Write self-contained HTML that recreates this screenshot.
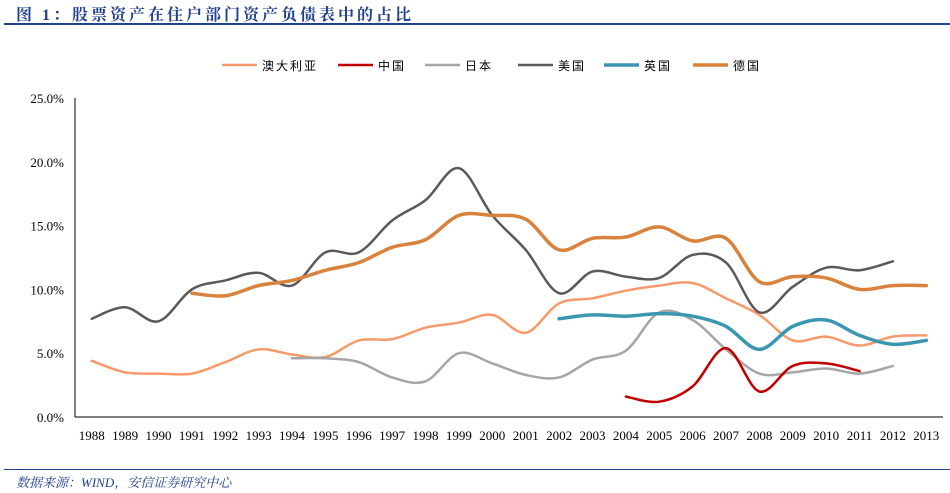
<!DOCTYPE html>
<html><head><meta charset="utf-8">
<style>
html,body{margin:0;padding:0;background:#fff;}
body{width:950px;height:493px;overflow:hidden;position:relative;font-family:"Liberation Serif","Noto Serif CJK SC",serif;}
#title{position:absolute;left:16px;top:2px;font-size:16px;font-weight:bold;color:#1f3f8f;letter-spacing:3px;font-family:"Liberation Serif","Noto Serif CJK SC",serif;}
#tline{position:absolute;left:4px;top:23px;width:946px;height:2px;background:#1f3f8f;}
#fline{position:absolute;left:4px;top:469px;width:946px;height:1px;background:#1f3f8f;}
#foot{position:absolute;left:16px;top:472px;font-size:13px;font-style:italic;color:#1f3f8f;font-family:"Liberation Serif","Noto Serif CJK SC",serif;}
svg{position:absolute;left:0;top:0;}
</style></head><body>
<div id="title">图 1：股票资产在住户部门资产负债表中的占比</div>
<div id="tline"></div>
<svg id="chart" width="950" height="493"></svg>
<div id="fline"></div>
<div id="foot">数据来源：WIND，安信证券研究中心</div>
<script>
const years = [1988,1989,1990,1991,1992,1993,1994,1995,1996,1997,1998,1999,2000,2001,2002,2003,2004,2005,2006,2007,2008,2009,2010,2011,2012,2013];
const yTicks = [0,5,10,15,20,25];
const seriesNames = ["澳大利亚","中国","日本","美国","英国","德国"];
const seriesColors = ["#f79a6a","#c00000","#a6a6a6","#595959","#3b97b0","#d9823b"];
const seriesWidths = [2.5,2.5,2.5,2.5,3.5,3.5];
const australia = [4.4,3.5,3.4,3.4,4.3,5.3,4.9,4.7,6.0,6.1,7.0,7.4,8.0,6.6,8.9,9.3,9.9,10.3,10.5,9.3,8.0,6.0,6.3,5.6,6.3,6.4];
const china = [null,null,null,null,null,null,null,null,null,null,null,null,null,null,null,null,1.6,1.2,2.4,5.4,2.0,4.0,4.2,3.6,null,null];
const japan = [null,null,null,null,null,null,4.6,4.6,4.3,3.1,2.8,5.0,4.2,3.3,3.1,4.5,5.2,8.2,7.6,5.3,3.4,3.5,3.8,3.4,4.0,null];
const usa = [7.7,8.6,7.5,10.0,10.7,11.3,10.3,12.9,12.9,15.4,17.0,19.5,15.8,13.1,9.7,11.4,11.0,10.9,12.7,12.1,8.2,10.2,11.7,11.5,12.2,null];
const uk = [null,null,null,null,null,null,null,null,null,null,null,null,null,null,7.7,8.0,7.9,8.1,7.9,7.1,5.3,7.1,7.6,6.4,5.7,6.0];
const germany = [null,null,null,9.7,9.5,10.3,10.7,11.5,12.1,13.3,13.9,15.8,15.8,15.5,13.1,14.0,14.1,14.9,13.8,14.0,10.6,11.0,10.9,10.0,10.3,10.3];
const seriesData = [australia,china,japan,usa,uk,germany];

const svg = document.getElementById('chart');
const NS = 'http://www.w3.org/2000/svg';
const X0 = 75, X1 = 943, Y0 = 417, Y1 = 98, YMAX = 25;
function xScale(i){ return X0 + (X1 - X0) * (i + 0.5) / years.length; }
function yScale(v){ return Y0 - (Y0 - Y1) * v / YMAX; }
function mk(tag, attrs){ const e = document.createElementNS(NS, tag); for (const k in attrs) e.setAttribute(k, attrs[k]); svg.appendChild(e); return e; }

let ax = mk('line',{x1:X0,y1:Y1,x2:X0,y2:Y0,stroke:'#000','stroke-width':1});


let bx = mk('line',{x1:X0,y1:Y0,x2:X1,y2:Y0,stroke:'#000','stroke-width':1});



yTicks.forEach(t => {
  const tx = mk('text',{x:64,y:yScale(t)+5,'text-anchor':'end','font-size':'13','font-family':'Liberation Serif, serif',fill:'#000'});
  tx.textContent = t.toFixed(1) + '%';
  
  
});
years.forEach((y,i) => {
  const tx = mk('text',{x:xScale(i),y:440,'text-anchor':'middle','font-size':'13','font-family':'Liberation Serif, serif',fill:'#000'});
  tx.textContent = y;
  
  
});

function smoothPath(pts){
  if (pts.length < 2) return '';
  let d = 'M' + pts[0][0] + ',' + pts[0][1];
  for (let i = 0; i < pts.length - 1; i++){
    const p0 = pts[i-1] || pts[i], p1 = pts[i], p2 = pts[i+1], p3 = pts[i+2] || p2;
    const t = 6;
    const c1x = p1[0] + (p2[0]-p0[0])/t, c1y = p1[1] + (p2[1]-p0[1])/t;
    const c2x = p2[0] - (p3[0]-p1[0])/t, c2y = p2[1] - (p3[1]-p1[1])/t;
    d += ' C' + c1x + ',' + c1y + ' ' + c2x + ',' + c2y + ' ' + p2[0] + ',' + p2[1];
  }
  return d;
}
const drawOrder = [0,2,3,5,4,1];
drawOrder.forEach(s => {
  const pts = [];
  seriesData[s].forEach((v,i) => { if (v !== null) pts.push([xScale(i), yScale(v)]); });
  const p = mk('path',{d:smoothPath(pts),fill:'none',stroke:seriesColors[s],'stroke-width':seriesWidths[s],'stroke-linecap':'round'});
  
  
});

const legendX = [222,338,425,518,604,693];
seriesNames.forEach((n,s) => {
  const lx = legendX[s];
  const l = mk('line',{x1:lx,y1:65,x2:lx+35,y2:65,stroke:seriesColors[s],'stroke-width':seriesWidths[s]});
  
  
  const t = mk('text',{x:lx+40,y:70,'font-size':'12','font-family':'Liberation Sans, Noto Sans CJK SC, sans-serif',fill:'#000','letter-spacing':'2'});
  t.textContent = n;
  
  
});
</script>
</body></html>
